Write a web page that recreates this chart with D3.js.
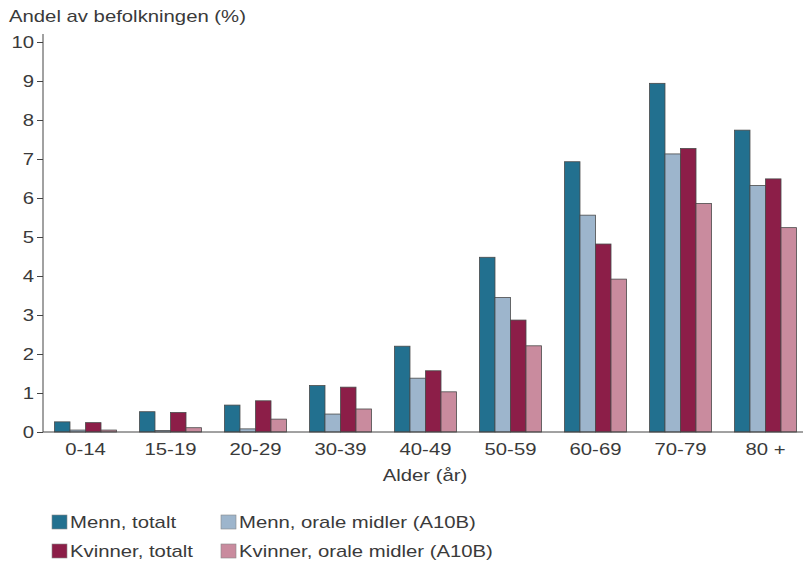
<!DOCTYPE html>
<html>
<head>
<meta charset="utf-8">
<script src="https://cdn.jsdelivr.net/npm/d3@7"></script>
<style>
  body { margin: 0; background: #fff; }
  svg { font-family: "Liberation Sans", Arial, Helvetica, sans-serif; }
</style>
</head>
<body>
<svg id="chart" width="803" height="569"></svg>
<script>
// Age groups along the x axis
const categories = ["0-14", "15-19", "20-29", "30-39", "40-49", "50-59", "60-69", "70-79", "80 +"];

// Share of population (%) per series
const mennTotalt      = [0.26, 0.52, 0.69, 1.19, 2.20, 4.48, 6.93, 8.94, 7.74];
const mennOrale       = [0.05, 0.04, 0.08, 0.46, 1.38, 3.45, 5.56, 7.13, 6.32];
const kvinnerTotalt   = [0.24, 0.50, 0.80, 1.15, 1.57, 2.87, 4.82, 7.27, 6.49];
const kvinnerOrale    = [0.05, 0.11, 0.33, 0.59, 1.03, 2.21, 3.92, 5.86, 5.24];

const seriesNames = ["Menn, totalt", "Menn, orale midler (A10B)", "Kvinner, totalt", "Kvinner, orale midler (A10B)"];
const seriesValues = [mennTotalt, mennOrale, kvinnerTotalt, kvinnerOrale];
const seriesColors = ["#22708f", "#9db5cc", "#8c1e48", "#c98b9e"];

const yTicks = [0, 1, 2, 3, 4, 5, 6, 7, 8, 9, 10];

const svg = d3.select("#chart");
const textColor = "#3a3a3a";
const fontSize = "16px";
const stretch = 1.27; // wide, horizontally stretched lettering

// Places a text at (x, y) with the horizontal stretch applied around its anchor
function placeText(sel, x, y) {
  sel.attr("x", 0).attr("y", 0)
     .attr("transform", `translate(${x},${y}) scale(${stretch},1)`);
}

const x0 = d3.scaleBand().domain(categories).range([43, 808]).paddingInner(0.27).paddingOuter(0.135);
const x1 = d3.scaleBand().domain(d3.range(seriesNames.length)).range([0, x0.bandwidth()]);
const y = d3.scaleLinear().domain([0, 10]).range([432, 42]);

// Bars
const groups = svg.append("g").selectAll("g")
  .data(categories)
  .join("g")
  .attr("transform", d => `translate(${x0(d)},0)`);

groups.selectAll("rect")
  .data((c, i) => seriesValues.map((vals, s) => ({ s, v: vals[i] })))
  .join("rect")
  .attr("x", d => x1(d.s))
  .attr("width", x1.bandwidth())
  .attr("y", d => y(d.v))
  .attr("height", d => y(0) - y(d.v))
  .attr("fill", d => seriesColors[d.s])
  .attr("stroke", "#4a4a4a")
  .attr("stroke-width", 0.8);

// Y axis
const yAxis = svg.append("g")
  .attr("transform", "translate(43,0)")
  .call(d3.axisLeft(y).tickValues(yTicks).tickSize(6));
yAxis.select(".domain").attr("stroke", "#444").attr("d", `M0,${y(0)}V${y(10) - 8}`);
yAxis.selectAll(".tick line").attr("stroke", "#444");
yAxis.selectAll("text")
  .attr("fill", textColor).style("font-size", fontSize)
  .attr("dy", "0.35em")
  .each(function () { placeText(d3.select(this), -9, 0); });

// X axis
const xAxis = svg.append("g")
  .attr("transform", `translate(0,${y(0)})`)
  .call(d3.axisBottom(x0).tickSize(0));
xAxis.select(".domain").attr("stroke", "#444").attr("d", "M43,0H803");
xAxis.selectAll("text")
  .attr("fill", textColor).style("font-size", fontSize)
  .attr("dy", "0")
  .each(function () { placeText(d3.select(this), 0, 23); });

// Axis titles
svg.append("text")
  .attr("fill", textColor).style("font-size", fontSize)
  .text("Andel av befolkningen (%)")
  .call(placeText, 9, 22);

svg.append("text")
  .attr("text-anchor", "middle")
  .attr("fill", textColor).style("font-size", fontSize)
  .text("Alder (år)")
  .call(placeText, 425, 481);

// Legend: two columns, two rows
const legendPos = [[52, 515], [221, 515], [52, 544], [221, 544]];
const legend = svg.append("g").selectAll("g")
  .data(seriesNames)
  .join("g")
  .attr("transform", (d, i) => `translate(${legendPos[i][0]},${legendPos[i][1]})`);
legend.append("rect")
  .attr("width", 15).attr("height", 14)
  .attr("fill", (d, i) => seriesColors[i])
  .attr("stroke", "#888").attr("stroke-width", 0.6);
legend.append("text")
  .attr("fill", textColor).style("font-size", fontSize)
  .text(d => d)
  .each(function () { placeText(d3.select(this), 18, 13); });
</script>
</body>
</html>
